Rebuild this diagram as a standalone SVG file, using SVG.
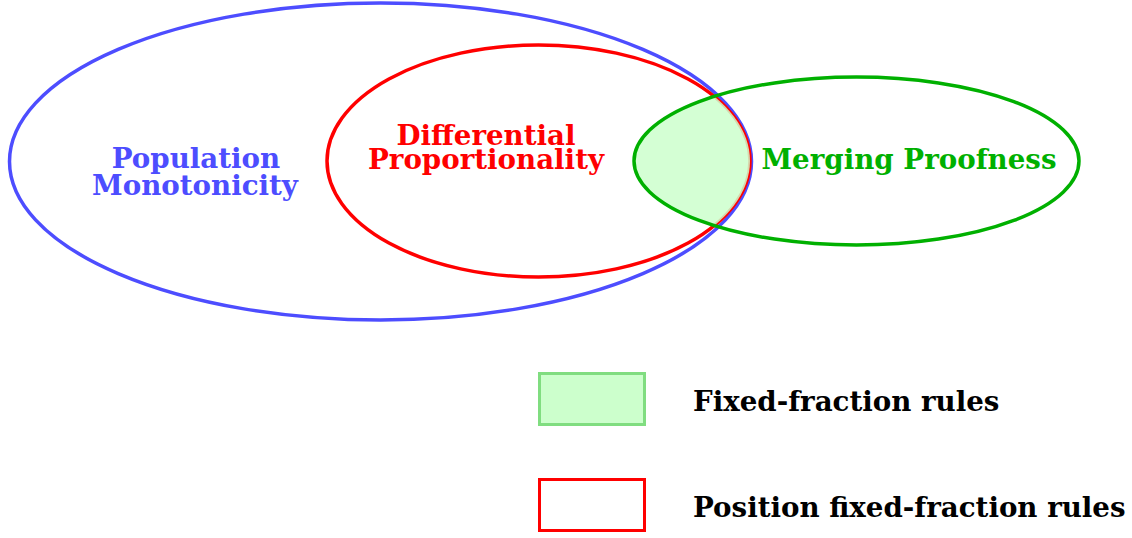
<svg xmlns="http://www.w3.org/2000/svg" width="1132" height="538" viewBox="0 0 1132 538">
<style>
text{font-family:"DejaVu Serif",serif;font-weight:bold;font-size:27.7px}
.b{fill:#4d4dff}.r{fill:#ff0000}.g{fill:#00b000}.k{fill:#000}
.e{fill:none;stroke-width:3.5}
</style>
<defs>
<clipPath id="cr"><ellipse cx="538.5" cy="161" rx="211.5" ry="116"/></clipPath>
</defs>
<rect width="1132" height="538" fill="#fff"/>
<g id="population-monotonicity">
<ellipse class="e" cx="380.5" cy="161.5" rx="371" ry="158.5" stroke="#4d4dff"/>
<text class="b" x="196" y="168" text-anchor="middle">Population</text>
<text class="b" x="195" y="195" text-anchor="middle">Monotonicity</text>
</g>
<g id="differential-proportionality">
<ellipse class="e" cx="538.5" cy="161" rx="211.5" ry="116" stroke="#ff0000"/>
<text class="r" x="486" y="145" text-anchor="middle">Differential</text>
<text class="r" x="486" y="169" text-anchor="middle">Proportionality</text>
</g>
<g id="merging-proofness">
<ellipse cx="856.5" cy="161" rx="222.5" ry="84" fill="#ccffcc" fill-opacity="0.85" stroke="none" clip-path="url(#cr)"/>
<ellipse class="e" cx="856.5" cy="161" rx="222.5" ry="84" stroke="#00b000"/>
<text class="g" x="909" y="169" text-anchor="middle">Merging Proofness</text>
</g>
<g id="legend-fixed-fraction">
<rect x="539.5" y="373.5" width="105" height="51" fill="#ccffcc" stroke="#80dd80" stroke-width="3"/>
<text class="k" x="693" y="411">Fixed-fraction rules</text>
</g>
<g id="legend-position">
<rect x="539.5" y="479.5" width="105" height="51" fill="none" stroke="#ff0000" stroke-width="3"/>
<text class="k" x="693" y="517">Position fixed-fraction rules</text>
</g>
<g id="connectors"></g>
</svg>
